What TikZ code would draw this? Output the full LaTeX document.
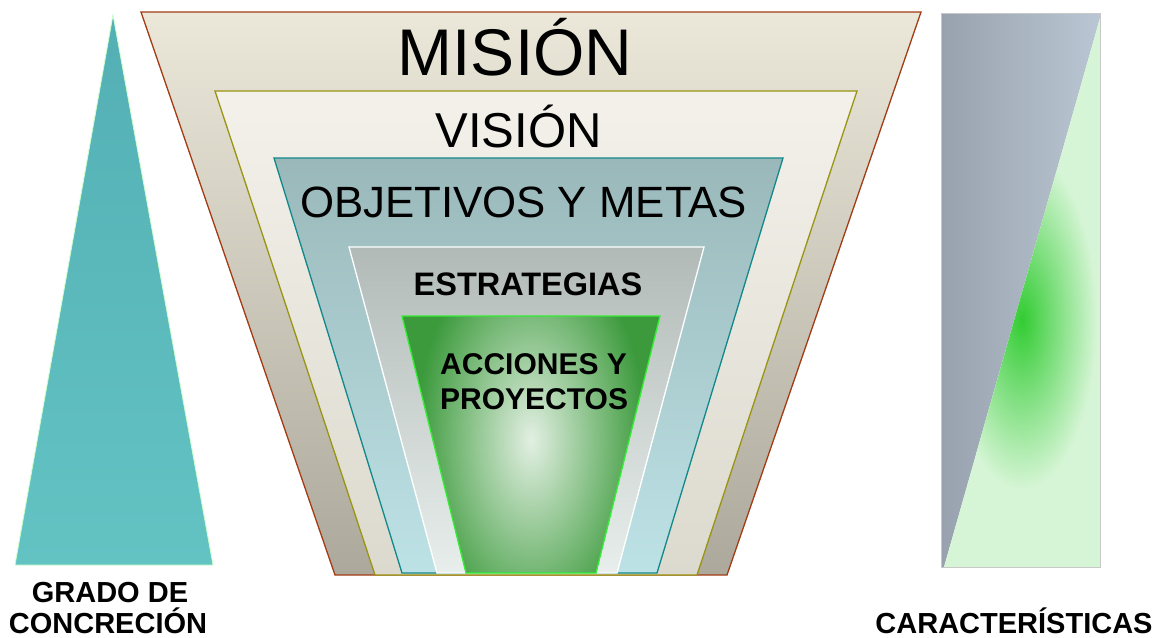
\documentclass[tikz,border=0pt]{standalone}
\usepackage{fontspec}
\setmainfont{Liberation Sans}
\definecolor{misLine}{HTML}{A33B14}
\definecolor{misTop}{HTML}{EBE8DA}
\definecolor{misBot}{HTML}{ACA99C}
\definecolor{visLine}{HTML}{999412}
\definecolor{visTop}{HTML}{F3F1EA}
\definecolor{visBot}{HTML}{DCD9CE}
\definecolor{objLine}{HTML}{12888A}
\definecolor{objTop}{HTML}{9AB8BA}
\definecolor{objBot}{HTML}{BDE2E6}
\definecolor{estTop}{HTML}{B2BAB7}
\definecolor{estBot}{HTML}{E7EEEB}
\definecolor{accLine}{HTML}{33EE33}
\definecolor{accDark}{HTML}{3C9A3C}
\definecolor{accLight}{HTML}{E2EFE2}
\definecolor{triTop}{HTML}{53AFB4}
\definecolor{triBot}{HTML}{63C3C3}
\definecolor{triLine}{HTML}{CCFFCC}
\definecolor{grayL}{HTML}{98A2AE}
\definecolor{grayR}{HTML}{BAC6D3}
\definecolor{greenPale}{HTML}{D6F5D6}
\definecolor{greenGlow}{HTML}{33CC33}
\definecolor{rectLine}{HTML}{C8C8C8}
\tikzset{
  band/.style={line width=1.3pt, line join=miter},
  bigtxt/.style={inner sep=0pt, anchor=base, text=black},
  boldtxt/.style={inner sep=0pt, text=black, font=\bfseries\fontsize{29}{32}\selectfont},
}
\begin{document}
\begin{tikzpicture}[x=1pt,y=-1pt]
\useasboundingbox (0,0) rectangle (1158,637);
% left triangle
\shade[top color=triTop, bottom color=triBot] (113,15) -- (213,565) -- (15,565) -- cycle;
\draw[triLine, line width=0.8pt] (113,15) -- (213,565) -- (15,565) -- cycle;
% funnel
\shade[top color=misTop, bottom color=misBot] (141,12) -- (921,12) -- (727,575) -- (335,575) -- cycle;
\draw[band, misLine] (141,12) -- (921,12) -- (727,575) -- (335,575) -- cycle;
\shade[top color=visTop, bottom color=visBot] (215,91) -- (857,91) -- (697,575) -- (375,575) -- cycle;
\draw[band, visLine] (215,91) -- (857,91) -- (697,575) -- (375,575) -- cycle;
\shade[top color=objTop, bottom color=objBot] (274,158) -- (783,158) -- (657,573) -- (402,573) -- cycle;
\draw[band, objLine] (274,158) -- (783,158) -- (657,573) -- (402,573) -- cycle;
\shade[top color=estTop, bottom color=estBot] (349,247) -- (704,247) -- (617,573) -- (437,573) -- cycle;
\draw[band, white] (349,247) -- (704,247) -- (617,573) -- (437,573) -- cycle;
\begin{scope}
  \clip (402,316) -- (660,316) -- (596,573) -- (466,573) -- cycle;
  \fill[accDark] (402,316) rectangle (660,573);
  \shade[inner color=accLight, outer color=accDark] (531,440) ellipse [x radius=115, y radius=200];
\end{scope}
\draw[band, accLine] (402,316) -- (660,316) -- (596,573) -- (466,573) -- cycle;
% right rectangle
\shade[left color=grayL, right color=grayR] (941,13) -- (1100,13) -- (1100,18) -- (944,567) -- (941,567) -- cycle;
\begin{scope}
  \clip (1100,18) -- (1100,567) -- (944,567) -- cycle;
  \fill[greenPale] (941,13) rectangle (1100,567);
  \shade[inner color=greenGlow, outer color=greenPale] (1022,320) ellipse [x radius=75, y radius=170];
\end{scope}
\draw[rectLine, line width=1pt] (941,13) rectangle (1100,567);
% texts
\node[bigtxt, font=\fontsize{66}{70}\selectfont] (mision) at (515,75) {MISIÓN};
\node[bigtxt, font=\fontsize{49}{52}\selectfont] (vision) at (518.5,147) {VISIÓN};
\node[bigtxt, font=\fontsize{43.8}{46}\selectfont] (objetivos) at (523.5,217) {OBJETIVOS Y METAS};
\node[bigtxt, font=\bfseries\fontsize{32.5}{35}\selectfont] (estrategias) at (528,295) {ESTRATEGIAS};
\node[boldtxt, font=\bfseries\fontsize{30}{33}\selectfont, anchor=base west] (acc1) at (440,374) {ACCIONES Y};
\node[boldtxt, font=\bfseries\fontsize{30}{33}\selectfont, anchor=base west] (acc2) at (440,409) {PROYECTOS};
\node[boldtxt, anchor=base] (grado) at (110,602) {GRADO DE};
\node[boldtxt, anchor=base] (concrecion) at (108,633) {CONCRECIÓN};
\node[boldtxt, anchor=base] (caract) at (1014,633) {CARACTERÍSTICAS};
\end{tikzpicture}
\end{document}
